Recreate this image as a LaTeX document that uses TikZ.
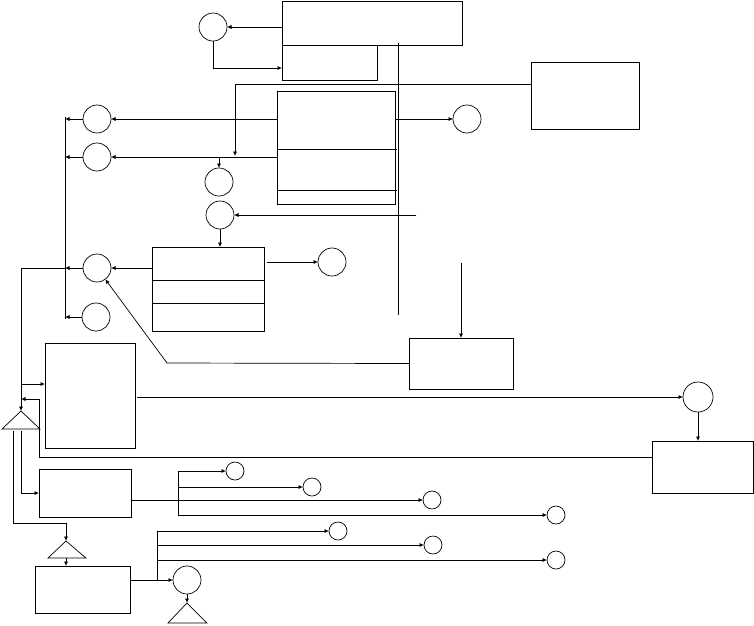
\documentclass[tikz,border=0pt]{standalone}
\usetikzlibrary{arrows.meta,calc}
\tikzset{
 box/.style={draw, rectangle, inner sep=0pt, outer sep=0pt},
 bigc/.style={draw, circle, minimum size=28pt, inner sep=0pt, outer sep=0pt},
 smallc/.style={draw, circle, minimum size=18pt, inner sep=0pt, outer sep=0pt},
 arr/.style={-{Latex[length=4.5pt,width=4pt]}}
}
\begin{document}
\begin{tikzpicture}[x=1pt,y=-1pt,line width=0.7pt]
\useasboundingbox (0,0) rectangle (754,625);
% boxes
\node[box,minimum width=180pt,minimum height=44pt] (T1) at (372,23) {};
\node[box,minimum width=95pt,minimum height=35pt] (T2) at (329.5,62.5) {};
\node[box,minimum width=108pt,minimum height=67pt] (R1) at (585,95.5) {};
\node[box,minimum width=118pt,minimum height=113pt] (M) at (336,147.5) {};
\node[box,minimum width=112pt,minimum height=84pt] (B) at (208,289) {};
\node[box,minimum width=104pt,minimum height=51pt] (H) at (461,363.5) {};
\node[box,minimum width=90pt,minimum height=105pt] (C) at (90,395.5) {};
\node[box,minimum width=101pt,minimum height=52pt] (D) at (702.5,467) {};
\node[box,minimum width=92pt,minimum height=48pt] (F) at (85,493) {};
\node[box,minimum width=95pt,minimum height=47pt] (G) at (82.5,589.5) {};
% circles
\node[bigc] (c1) at (213,27) {};
\node[bigc] (c2) at (97,119) {};
\node[bigc] (c3) at (97,157) {};
\node[bigc] (c4) at (219,182) {};
\node[bigc] (c5) at (220,215) {};
\node[bigc] (c6) at (467,119) {};
\node[bigc] (c7) at (332,262) {};
\node[bigc] (c8) at (97,268) {};
\node[bigc] (c9) at (96,317) {};
\node[bigc,minimum size=30pt] (c10) at (698,397) {};
\node[bigc] (c11) at (187,580) {};
\node[smallc] (s1) at (235,471) {};
\node[smallc] (s2) at (312,487) {};
\node[smallc] (s3) at (432,500) {};
\node[smallc] (s4) at (556,515) {};
\node[smallc] (s5) at (338,531) {};
\node[smallc] (s6) at (433,545) {};
\node[smallc] (s7) at (556,560) {};
% triangles
\coordinate (t1a) at (21,411);
\coordinate (t1bl) at (2,429);
\coordinate (t1br) at (40,429);
\coordinate (t1l) at (13,431);
\coordinate (t1m) at (21,431);
\draw (t1bl) -- (t1a) -- (t1br) -- cycle;
\coordinate (t2a) at (66,541);
\coordinate (t2bl) at (48,558);
\coordinate (t2br) at (86,558);
\coordinate (t2b) at (66,558);
\draw (t2bl) -- (t2a) -- (t2br) -- cycle;
\coordinate (t3a) at (187,603);
\coordinate (t3bl) at (168,623);
\coordinate (t3br) at (207,623);
\draw (t3bl) -- (t3a) -- (t3br) -- cycle;
% helper coordinates
\coordinate (va) at (398,43);
\coordinate (vb) at (398,315);
\coordinate (j1) at (235,156);
\coordinate (vlt) at (65,117);
\coordinate (vlb) at (65,319);
\coordinate (fin) at (416,215);
\coordinate (hin) at (461,263);
\coordinate (bend) at (167,363);
\coordinate (k1) at (39,399);
\coordinate (k2) at (13,523);
\coordinate (g1) at (157,580);
\coordinate (g1t) at (157,531);
\coordinate (f1t) at (178,471);
\coordinate (f1b) at (178,515);
\coordinate (d1) at (397,149);
\coordinate (d2) at (397,190);
\coordinate (bd1) at (208,280);
\coordinate (bd2) at (208,303);
\coordinate (bo) at ([xshift=3pt]B.east);
\coordinate (cin) at ([yshift=11.5pt]C.west);
\coordinate (co) at ([xshift=2pt]C.east);
\coordinate (dout) at ([yshift=10pt]D.west);
\coordinate (gout) at ([yshift=9.5pt]G.east);
\coordinate (fout) at ([yshift=-7pt]F.east);
% dividers
\draw (M.west |- d1) -- (d1);
\draw (M.west |- d2) -- (d2);
\draw (B.west |- bd1) -- (B.east |- bd1);
\draw (B.west |- bd2) -- (B.east |- bd2);
% connectors top
\draw[arr] (T1.west |- c1) -- (c1.east);
\draw[arr] (c1.south) |- ([yshift=-5.5pt]T2.west);
\draw (va) -- (vb);
\draw[arr] ([yshift=11.5pt]R1.west) -| (j1);
\draw[arr] (M.west |- c2) -- (c2.east);
\draw[arr] (c2.west) -- (vlt |- c2);
\draw[arr] (M.west |- c3) -- (c3.east);
\draw[arr] (c3.west) -- (vlt |- c3);
\draw (vlt) -- (vlb);
\draw[arr] (c4.north |- c3) -- (c4.north);
\draw[arr] (fin) -- (c5.east);
\draw[arr] (c5.south) -- (c5.south |- B.north);
\draw[arr] (M.east |- c6) -- (c6.west);
% middle
\draw[arr] (bo |- c7) -- (c7.west);
\draw[arr] (B.west |- c8) -- (c8.east);
\draw[arr] (c8.west) -- (vlt |- c8);
\draw[arr] (vlt |- c8) -| (t1a);
\draw[arr] (c9.west) -- (vlt |- c9);
\draw[arr] (H.west) -- (bend) -- (c8);
\draw[arr] (hin) -- (H.north);
\draw[arr] (cin -| t1a) -- (cin);
\draw[arr] (co |- c10) -- (c10.west);
\draw[arr] (c10.south) -- (c10.south |- D.north);
\draw[arr] (dout) -| (k1) -- (k1 -| t1a);
% lower
\draw[arr] (t1m) |- (F.west);
\draw[arr] (t1l) -- (k2) -| (t2a);
\draw[arr] (t2b) -- (t2b |- G.north);
\draw[arr] (gout) -- (c11.west);
\draw (g1t) -- (g1);
\draw[arr] (g1t) -- (s5.west);
\draw[arr] (g1t |- s6) -- (s6.west);
\draw[arr] (g1t |- s7) -- (s7.west);
\draw[arr] (c11.south) -- (t3a);
\draw[arr] (fout) -- (s3.west);
\draw (f1t) -- (f1b);
\draw[arr] (f1t) -- (s1.west);
\draw[arr] (f1t |- s2) -- (s2.west);
\draw[arr] (f1b |- s4) -- (s4.west);
\end{tikzpicture}
\end{document}
